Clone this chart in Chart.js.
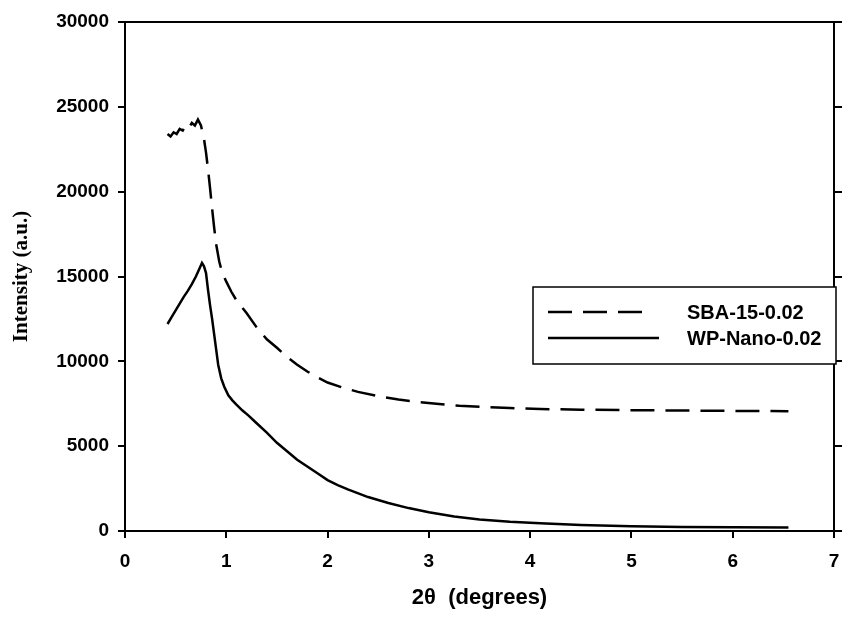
<!DOCTYPE html>
<html>
<head>
<meta charset="utf-8">
<script src="https://cdn.jsdelivr.net/npm/chart.js@4.4.1/dist/chart.umd.min.js"></script>
<style>
  html, body { margin: 0; padding: 0; background: #fff; }
  #wrap { width: 844px; height: 619px; }
</style>
</head>
<body>
<div id="wrap"><canvas id="xrdChart" width="844" height="619"></canvas></div>
<script>
// SBA-15-0.02 (dashed)
const sbaX = [0.42, 0.45, 0.48, 0.51, 0.54, 0.57, 0.60, 0.63, 0.66, 0.69, 0.72, 0.75, 0.78, 0.80, 0.82,
  0.84, 0.86, 0.88, 0.90, 0.93, 0.96, 1.00, 1.05, 1.10, 1.20, 1.30, 1.40, 1.50, 1.60, 1.70, 1.80, 1.90,
  2.00, 2.15, 2.30, 2.50, 2.70, 2.90, 3.10, 3.30, 3.50, 3.80, 4.10, 4.50, 5.00, 5.50, 6.00, 6.55]
const sbaY = [23400, 23250, 23500, 23400, 23700, 23600, 23900, 23750, 24050, 23900, 24250, 23900, 23100, 22300, 21300,
  20200, 19000, 17900, 16900, 15900, 15200, 14700, 14100, 13600, 12850, 12000, 11300, 10800, 10250, 9800, 9400, 9050,
  8750, 8450, 8200, 7950, 7750, 7600, 7480, 7380, 7320, 7250, 7190, 7150, 7120, 7100, 7080, 7060]

// WP-Nano-0.02 (solid)
const wpX = [0.42, 0.46, 0.50, 0.54, 0.58, 0.62, 0.66, 0.70, 0.73, 0.76, 0.78, 0.80, 0.82, 0.84, 0.86, 0.88,
  0.90, 0.92, 0.95, 0.98, 1.02, 1.06, 1.10, 1.16, 1.22, 1.30, 1.40, 1.50, 1.60, 1.70, 1.80, 1.90, 2.00,
  2.10, 2.20, 2.40, 2.60, 2.80, 3.00, 3.25, 3.50, 3.80, 4.10, 4.50, 5.00, 5.50, 6.00, 6.55]
const wpY = [12200, 12600, 13000, 13400, 13800, 14150, 14550, 15000, 15400, 15800, 15600, 15200, 14200, 13300, 12500, 11600,
  10700, 9800, 9000, 8500, 8000, 7700, 7450, 7100, 6800, 6350, 5800, 5200, 4700, 4200, 3800, 3400, 3000,
  2700, 2450, 2000, 1650, 1350, 1100, 850, 680, 540, 450, 360, 280, 240, 225, 205]

const seriesNames = ['SBA-15-0.02', 'WP-Nano-0.02']
const xTitle = '2\u03b8  (degrees)'
const yTitle = 'Intensity (a.u.)'

function toPoints(xs, ys) {
  return xs.map(function (x, i) { return { x: x, y: ys[i] } })
}

const tickFont = { family: '"Liberation Sans", Arial, sans-serif', size: 19, weight: 'bold' }

// top border of the frame + legend box inside the plot
const framePlugin = {
  id: 'frame',
  afterDraw(chart) {
    const ctx = chart.ctx
    const a = chart.chartArea
    ctx.save()
    ctx.strokeStyle = '#000'
    ctx.lineWidth = 2
    ctx.beginPath()
    ctx.moveTo(a.left - 1, a.top)
    ctx.lineTo(a.right + 1, a.top)
    ctx.stroke()

    // legend
    const bx = 533, by = 287, bw = 303, bh = 77
    ctx.fillStyle = '#fff'
    ctx.fillRect(bx, by, bw, bh)
    ctx.lineWidth = 1.5
    ctx.strokeRect(bx, by, bw, bh)
    const rows = [312, 338]
    chart.data.datasets.forEach(function (ds, i) {
      ctx.beginPath()
      ctx.lineWidth = ds.borderWidth
      ctx.setLineDash(ds.borderDash || [])
      ctx.moveTo(548, rows[i])
      ctx.lineTo(i === 0 ? 649 : 659, rows[i])
      ctx.stroke()
      ctx.setLineDash([])
      ctx.fillStyle = '#000'
      ctx.font = 'bold 20px "Liberation Sans", Arial, sans-serif'
      ctx.textBaseline = 'middle'
      ctx.textAlign = 'left'
      ctx.fillText(ds.label, 687, rows[i] + 1)
    })
    ctx.restore()
  }
}

const ctx = document.getElementById('xrdChart')
new Chart(ctx, {
  type: 'line',
  data: {
    datasets: [{
      label: seriesNames[0],
      data: toPoints(sbaX, sbaY),
      borderColor: '#000',
      borderWidth: 2.5,
      borderDash: [24, 11],
      pointRadius: 0,
      fill: false
    },
    {
      label: seriesNames[1],
      data: toPoints(wpX, wpY),
      borderColor: '#000',
      borderWidth: 2.5,
      pointRadius: 0,
      fill: false
    }]
  },
  options: {
    responsive: false,
    animation: false,
    layout: { padding: { top: 22, left: 0, right: 0, bottom: 0 } },
    elements: { line: { tension: 0 } },
    plugins: {
      legend: { display: false },
      tooltip: { enabled: false }
    },
    scales: {
      x: {
        type: 'linear',
        min: 0,
        max: 7,
        ticks: { stepSize: 1, color: '#000', font: tickFont, padding: 12 },
        grid: { drawOnChartArea: false, tickLength: 7, color: '#000', lineWidth: 2 },
        border: { color: '#000', width: 2 },
        title: {
          display: true,
          text: xTitle,
          color: '#000',
          font: { family: '"Liberation Sans", Arial, sans-serif', size: 22, weight: 'bold' },
          padding: { top: 0, bottom: 8 }
        },
        afterFit(scale) {
          scale.height = 88
          scale.paddingLeft = 0
          scale.paddingRight = 0
        }
      },
      y: {
        min: 0,
        max: 30000,
        ticks: {
          stepSize: 5000,
          color: '#000',
          font: tickFont,
          padding: 9,
          callback: function (v) { return String(v) }
        },
        grid: { drawOnChartArea: false, tickLength: 7, color: '#000', lineWidth: 2 },
        border: { color: '#000', width: 2 },
        title: {
          display: true,
          text: yTitle,
          color: '#000',
          font: { family: '"Liberation Serif", "Times New Roman", serif', size: 21, weight: 'bold' },
          padding: { top: 9, bottom: 0 }
        },
        afterFit(scale) {
          scale.width = 125
          scale.paddingTop = 0
          scale.paddingBottom = 0
        }
      },
      y2: {
        position: 'right',
        min: 0,
        max: 30000,
        ticks: { stepSize: 5000, display: false },
        grid: { drawOnChartArea: false, tickLength: 8, color: '#000', lineWidth: 2 },
        border: { color: '#000', width: 2 },
        afterFit(scale) { scale.width = 10 }
      }
    }
  },
  plugins: [framePlugin]
})
</script>
</body>
</html>
